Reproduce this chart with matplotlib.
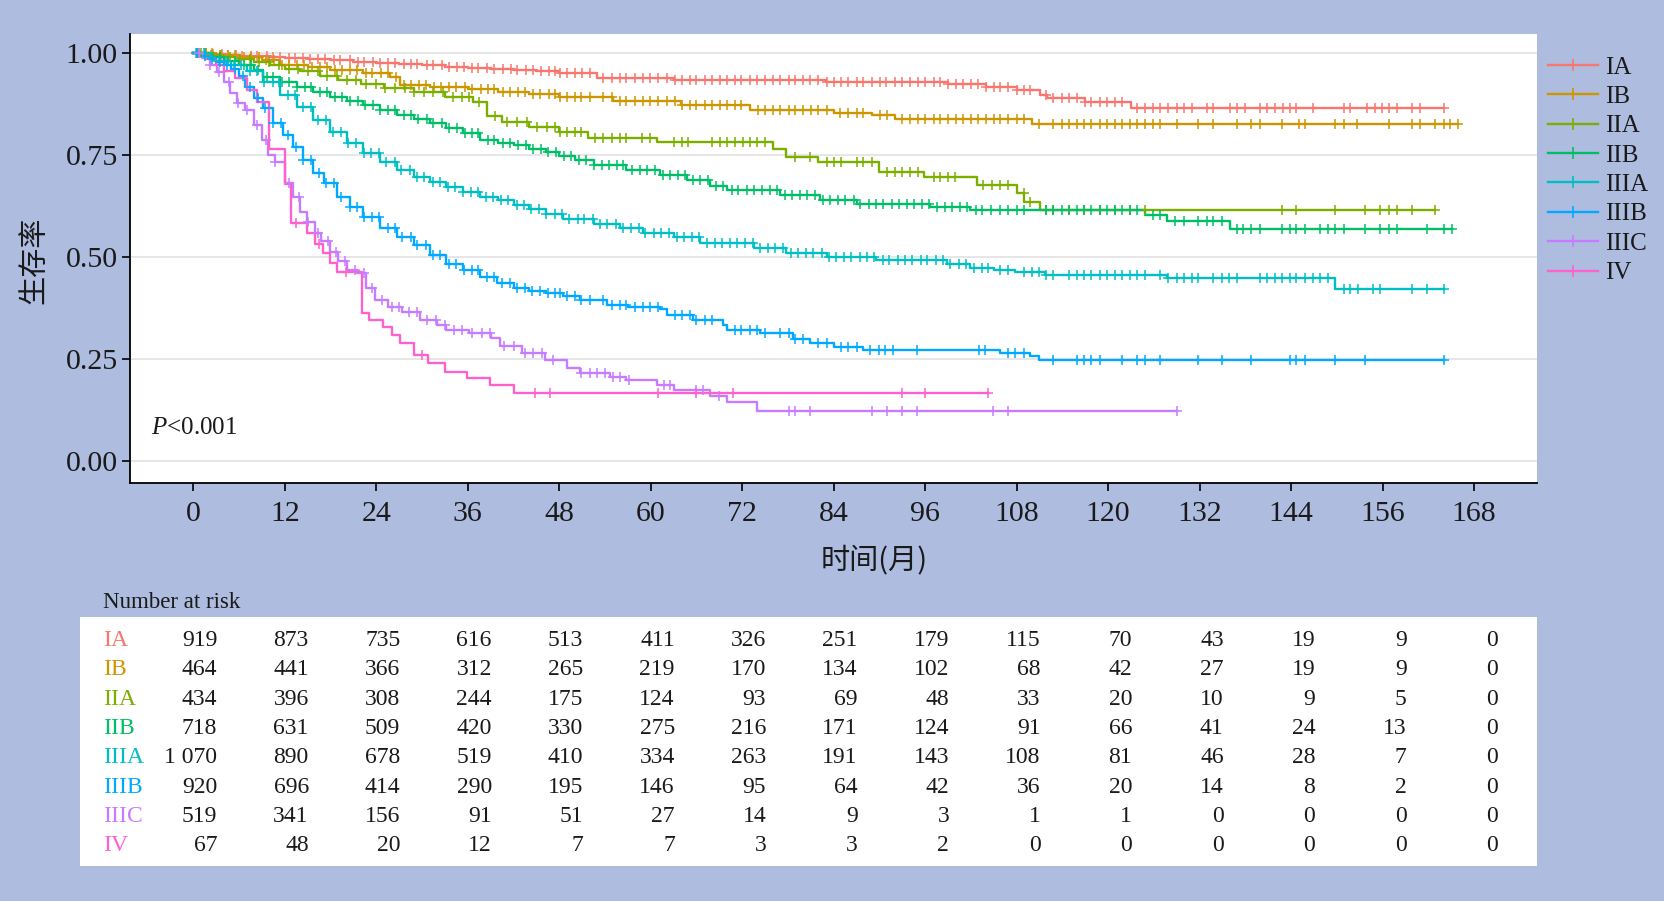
import numpy as np
import matplotlib
matplotlib.use("Agg")
import matplotlib.pyplot as plt
from matplotlib.lines import Line2D

plt.rcParams['font.family'] = ['Liberation Serif', 'Noto Sans CJK SC', 'DejaVu Sans']
plt.rcParams['mathtext.fontset'] = 'custom'
plt.rcParams['mathtext.it'] = 'Liberation Serif:italic'
plt.rcParams['mathtext.rm'] = 'Liberation Serif'

# ---------------- data ----------------
stages = ['IA', 'IB', 'IIA', 'IIB', 'IIIA', 'IIIB', 'IIIC', 'IV']
colors = ['#F8766D', '#CD9600', '#7CAE00', '#00BE67', '#00BFC4', '#00A9FF', '#C77CFF', '#FF61CC']

# Kaplan-Meier step points (time in months, survival)
IA_t = [0, 2, 4, 6, 8, 10, 12, 15, 18, 21, 24, 27, 30, 33, 36, 39, 42, 45, 48, 53, 63, 83, 99, 104, 108, 111, 112, 117, 123]
IA_s = [1.0, 0.998, 0.996, 0.994, 0.992, 0.990, 0.988, 0.985, 0.982, 0.979, 0.976, 0.973, 0.970, 0.967, 0.964, 0.961, 0.958, 0.955, 0.950, 0.940, 0.933, 0.929, 0.925, 0.918, 0.909, 0.897, 0.891, 0.881, 0.866]
IA_end = 164.0

IB_t = [0, 3, 6, 9, 11.4, 15, 17.9, 22.3, 25.8, 27.1, 31, 36, 40, 44, 48, 55, 64, 73, 84, 89, 92, 110]
IB_s = [1.0, 0.995, 0.99, 0.982, 0.971, 0.965, 0.959, 0.950, 0.942, 0.922, 0.918, 0.911, 0.905, 0.900, 0.893, 0.882, 0.873, 0.860, 0.854, 0.847, 0.838, 0.826]
IB_end = 165.9

IIA_t = [0, 2, 4, 6, 8, 10, 12, 14, 16.6, 19, 22, 25, 29, 33, 36.7, 38.5, 40.5, 44, 48, 51.8, 60.8, 76, 77.8, 82, 90, 95.8, 102.8, 108, 109, 111]
IIA_s = [1.0, 0.995, 0.99, 0.985, 0.978, 0.97, 0.962, 0.955, 0.945, 0.935, 0.925, 0.915, 0.905, 0.893, 0.88, 0.845, 0.83, 0.818, 0.806, 0.791, 0.781, 0.766, 0.744, 0.734, 0.709, 0.695, 0.676, 0.656, 0.636, 0.615]
IIA_end = 162.9

IIB_t = [0, 2, 4, 6, 8, 9.2, 11.4, 13.6, 15.7, 17.9, 20.1, 22.3, 24.5, 26.7, 29, 31.1, 33.2, 35.4, 37.6, 40, 42, 44, 46.3, 48, 50, 52.5, 56.8, 61.2, 64.7, 67.8, 70, 77, 82.2, 87, 96.6, 101.9, 124.8, 127.7, 136]
IIB_s = [1.0, 0.99, 0.98, 0.97, 0.958, 0.942, 0.930, 0.918, 0.905, 0.893, 0.883, 0.873, 0.860, 0.848, 0.838, 0.828, 0.816, 0.803, 0.787, 0.78, 0.775, 0.765, 0.757, 0.748, 0.739, 0.726, 0.713, 0.701, 0.689, 0.674, 0.664, 0.652, 0.64, 0.63, 0.623, 0.614, 0.603, 0.588, 0.569]
IIB_end = 165.1

IIIA_t = [0, 1.5, 3, 5, 7, 9.2, 11.4, 13.6, 15.7, 17.9, 20.1, 22.3, 24.5, 26.7, 28.9, 31.1, 33.2, 35.4, 37.6, 40, 42, 44, 46.3, 48.5, 52.5, 56, 59, 63, 66.5, 73.5, 77.8, 83.1, 89.6, 98.8, 101.9, 105, 107.8, 111.7, 127.7, 149.8]
IIIA_s = [1.0, 0.99, 0.98, 0.97, 0.955, 0.93, 0.897, 0.869, 0.836, 0.807, 0.779, 0.754, 0.734, 0.713, 0.697, 0.685, 0.672, 0.66, 0.648, 0.64, 0.628, 0.617, 0.605, 0.592, 0.581, 0.57, 0.56, 0.548, 0.535, 0.521, 0.509, 0.501, 0.493, 0.483, 0.472, 0.468, 0.462, 0.456, 0.448, 0.421]
IIIA_end = 164.0

IIIB_t = [0, 1, 2, 3, 4, 5, 6, 6.8, 8, 9.2, 10.5, 11.8, 13.1, 14.4, 15.7, 17.1, 18.8, 20.5, 22.3, 24.5, 26.7, 28.9, 31.1, 33.2, 35.4, 37.6, 39.8, 42, 44, 46.3, 48.5, 50.7, 54.2, 57, 61.2, 62.1, 65.6, 69.5, 70, 74.3, 78.7, 80.9, 84, 87.9, 105.8, 109.8, 110.9]
IIIB_s = [1.0, 0.993, 0.985, 0.978, 0.97, 0.96, 0.945, 0.918, 0.89, 0.865, 0.828, 0.8, 0.77, 0.738, 0.705, 0.681, 0.648, 0.623, 0.599, 0.57, 0.55, 0.529, 0.505, 0.484, 0.468, 0.452, 0.435, 0.423, 0.417, 0.411, 0.404, 0.395, 0.382, 0.377, 0.372, 0.358, 0.346, 0.333, 0.321, 0.313, 0.3, 0.29, 0.28, 0.272, 0.264, 0.257, 0.247]
IIIB_end = 164.0

IIIC_t = [0, 1.1, 2.2, 3.1, 4.0, 4.8, 5.7, 6.8, 7.9, 9.0, 9.8, 10.7, 12.0, 13.1, 14.0, 14.9, 16.0, 16.8, 17.9, 19.0, 20.1, 21.5, 22.7, 23.8, 25.6, 27.4, 29.7, 32, 33.2, 36.1, 39, 40.2, 43.1, 46.1, 49, 50.7, 54.7, 56.8, 60.8, 63, 67.8, 70, 73.9]
IIIC_s = [1.0, 0.987, 0.971, 0.954, 0.93, 0.901, 0.877, 0.86, 0.824, 0.787, 0.75, 0.734, 0.681, 0.648, 0.611, 0.587, 0.558, 0.538, 0.513, 0.489, 0.468, 0.46, 0.424, 0.395, 0.378, 0.366, 0.346, 0.333, 0.322, 0.313, 0.301, 0.281, 0.265, 0.248, 0.227, 0.215, 0.205, 0.198, 0.186, 0.174, 0.158, 0.145, 0.123]
IIIC_end = 129.0

IV_t = [0, 1.5, 3, 4, 5.5, 7, 8.3, 9.9, 12.0, 12.8, 14.9, 16, 17, 17.9, 18.8, 22.1, 23, 24.9, 26, 27.1, 28.9, 30.8, 33, 35.9, 38.9, 42]
IV_s = [1.0, 0.985, 0.97, 0.955, 0.94, 0.91, 0.88, 0.766, 0.68, 0.583, 0.558, 0.533, 0.509, 0.485, 0.464, 0.362, 0.345, 0.329, 0.309, 0.288, 0.26, 0.239, 0.219, 0.203, 0.186, 0.167]
IV_end = 104.3

# censoring times (months) read from the "+" marks
IA_cens = [0.8, 1.7, 2.6, 3.7, 4.5, 5.6, 6.4, 7.5, 8.4, 9.6, 10.5, 11.4, 12.5, 13.3, 14.4, 15.3, 16.4, 17.3, 18.4, 19.3,
           20.5, 21.6, 22.4, 23.6, 24.5, 25.6, 26.4, 27.6, 28.5, 29.4, 30.6, 31.5, 32.6, 33.5, 34.6, 35.5, 36.6, 37.4,
           38.5, 39.4, 40.6, 41.7, 42.5, 43.6, 44.5, 45.6, 46.7, 47.5, 48.1, 49.0, 50.0, 51.0, 52.0, 53.8, 54.9, 56.0,
           56.8, 57.9, 59.0, 59.9, 61.0, 62.1, 63.2, 64.1, 65.2, 66.0, 67.1, 68.0, 69.1, 70.0, 71.1, 71.9, 73.0, 73.9,
           75.0, 76.1, 77.0, 78.1, 78.9, 80.0, 80.9, 82.0, 83.1, 84.0, 85.0, 85.9, 87.0, 87.9, 89.0, 90.1, 90.9, 92.0,
           92.9, 94.0, 95.1, 96.0, 97.1, 97.9, 99.0, 100.1, 101.0, 102.0, 102.9, 104.0, 105.0, 105.8, 106.9, 108.0,
           108.9, 109.8, 111.9, 112.8, 113.9, 114.8, 115.9, 117.0, 117.8, 118.9, 119.8, 120.9, 121.8, 123.8, 124.8,
           125.9, 126.8, 127.9, 129.0, 129.9, 131.0, 132.9, 133.8, 136.0, 136.9, 138.0, 139.9, 140.8, 141.9, 143.0,
           143.9, 144.7, 146.9, 150.9, 151.7, 153.9, 155.0, 155.9, 156.8, 157.9, 159.8, 160.9, 164.0]
IB_cens = [0.5, 1.6, 2.5, 3.6, 4.6, 5.5, 6.6, 7.5, 8.6, 9.5, 10.6, 11.6, 12.5, 13.6, 14.5, 15.6, 16.6, 17.5, 18.6, 19.5,
           20.6, 21.5, 22.6, 23.5, 24.6, 25.5, 26.6, 27.6, 28.5, 29.6, 30.5, 31.6, 32.5, 33.6, 34.5, 35.6, 36.6, 37.7,
           38.6, 39.5, 40.6, 41.5, 42.6, 43.5, 44.6, 45.5, 46.6, 47.5, 48.1, 49.0, 50.1, 50.9, 52.0, 53.8, 54.9, 56.0,
           56.8, 57.9, 59.0, 59.9, 61.0, 62.1, 63.2, 64.1, 65.2, 66.0, 67.1, 68.0, 69.1, 70.0, 71.1, 71.9, 74.1, 75.0,
           76.0, 77.0, 78.1, 78.9, 80.0, 81.0, 82.0, 83.1, 84.8, 85.9, 87.0, 87.9, 90.1, 91.0, 93.0, 94.0, 95.1, 96.0,
           97.1, 97.9, 99.0, 100.1, 101.0, 102.0, 102.9, 104.0, 105.0, 105.8, 106.9, 108.0, 108.9, 110.9, 112.8, 113.9,
           114.8, 115.9, 116.8, 117.8, 118.9, 119.8, 120.9, 121.8, 122.9, 123.8, 124.8, 125.9, 126.8, 129.0, 131.8,
           133.8, 136.9, 138.8, 139.9, 142.8, 145.0, 145.8, 149.8, 150.9, 152.7, 156.8, 159.8, 160.9, 162.9, 164.0,
           164.9, 165.9]
IIA_cens = [1.0, 2.3, 3.5, 4.8, 6.1, 7.4, 8.6, 9.9, 11.2, 12.5, 13.7, 15.0, 16.3, 17.5, 18.8, 20.1, 21.4, 22.6, 23.9,
            25.2, 26.4, 27.7, 29.0, 30.3, 31.5, 32.8, 34.1, 35.3, 36.2, 37.5, 39.6, 41.2, 42.5, 43.8, 45.1, 46.4, 47.5,
            48.1, 49.0, 50.1, 50.9, 52.7, 53.8, 54.9, 56.0, 56.8, 58.8, 59.9, 63.0, 64.1, 64.9, 68.0, 69.1, 70.0, 71.1,
            72.1, 73.0, 73.9, 75.0, 78.9, 80.9, 83.1, 84.0, 85.0, 87.0, 87.9, 89.0, 91.0, 92.0, 92.9, 94.0, 95.1, 97.1,
            97.9, 99.0, 99.9, 103.6, 104.7, 105.8, 106.9, 108.9, 109.8, 111.9, 112.8, 114.8, 116.8, 118.9, 120.9,
            122.9, 124.8, 142.8, 144.7, 149.8, 153.7, 155.7, 156.8, 157.9, 159.8, 162.9]
IIB_cens = [0.6, 1.5, 2.6, 3.5, 4.6, 5.5, 6.6, 7.6, 8.5, 9.6, 10.5, 11.6, 12.5, 13.6, 14.6, 15.5, 16.6, 17.5, 18.6, 19.5,
            20.6, 21.6, 22.5, 23.6, 24.5, 25.6, 26.5, 27.6, 28.6, 29.5, 30.6, 31.5, 32.6, 33.5, 34.6, 35.6, 36.5, 37.4,
            38.6, 39.5, 40.6, 41.5, 42.6, 43.6, 44.5, 45.6, 46.5, 47.6, 48.6, 49.5, 50.6, 51.5, 52.6, 53.6, 54.5, 55.6,
            56.4, 57.6, 58.6, 59.5, 60.6, 61.6, 62.5, 63.6, 64.5, 65.6, 66.5, 67.5, 68.6, 69.5, 70.6, 71.5, 72.6, 73.5,
            74.6, 75.6, 76.5, 77.6, 78.5, 79.6, 80.5, 81.6, 82.6, 83.5, 84.6, 85.5, 86.6, 87.5, 88.6, 89.6, 90.5, 91.6,
            92.5, 93.6, 94.5, 95.6, 96.5, 97.6, 98.6, 99.5, 100.6, 101.5, 102.6, 103.5, 104.6, 105.8, 106.9, 108.0,
            108.9, 111.9, 112.8, 113.9, 114.8, 115.9, 116.8, 117.8, 118.9, 119.8, 120.9, 121.8, 122.9, 123.8, 125.9,
            126.8, 128.8, 129.9, 131.8, 132.9, 133.8, 134.9, 136.9, 137.7, 138.8, 139.9, 142.8, 143.9, 144.7, 145.8,
            147.8, 148.9, 149.8, 150.9, 153.7, 155.7, 156.8, 157.9, 161.8, 164.0, 165.1]
IIIA_cens = [0.4, 1.4, 2.3, 3.4, 4.3, 5.4, 6.3, 7.4, 8.4, 9.3, 10.4, 11.3, 12.4, 13.3, 14.4, 15.4, 16.3, 17.4, 18.3,
             19.4, 20.3, 21.4, 22.4, 23.3, 24.4, 25.3, 26.4, 27.3, 28.4, 29.4, 30.3, 31.4, 32.3, 33.4, 34.3, 35.4,
             36.4, 37.3, 38.4, 39.3, 40.4, 41.3, 42.4, 43.4, 44.3, 45.4, 46.3, 47.4, 48.4, 49.3, 50.4, 51.3, 52.4,
             53.4, 54.3, 55.4, 56.3, 57.4, 58.4, 59.3, 60.4, 61.3, 62.4, 63.4, 64.3, 65.4, 66.3, 67.4, 68.4, 69.3,
             70.4, 71.3, 72.4, 73.4, 74.3, 75.4, 76.3, 77.4, 78.4, 79.3, 80.4, 81.3, 82.4, 83.4, 84.3, 85.4, 86.3,
             87.4, 88.4, 89.3, 90.4, 91.3, 92.4, 93.4, 94.3, 95.4, 96.3, 97.4, 98.4, 99.3, 100.4, 101.3, 102.4, 103.4,
             104.3, 105.8, 106.9, 108.9, 110.0, 110.9, 111.9, 112.8, 114.8, 115.9, 116.8, 117.8, 118.9, 119.8, 120.9,
             121.8, 122.9, 123.8, 124.8, 126.8, 127.9, 129.0, 129.9, 131.0, 131.8, 133.8, 134.9, 135.8, 136.9, 139.9,
             140.8, 141.9, 142.8, 143.9, 144.7, 145.8, 146.9, 147.8, 148.9, 150.9, 151.7, 152.8, 154.8, 155.7, 159.8,
             161.8, 164.0]
IIIB_cens = [0.5, 1.5, 2.4, 3.5, 4.4, 5.5, 6.5, 7.4, 8.5, 9.4, 10.5, 11.5, 12.4, 13.5, 14.4, 15.5, 16.5, 17.4, 18.5,
             19.4, 20.5, 21.5, 22.4, 23.5, 24.4, 25.5, 26.5, 27.4, 28.5, 29.4, 30.5, 31.5, 32.4, 33.5, 34.4, 35.5,
             36.5, 37.4, 38.5, 39.4, 40.5, 41.5, 42.4, 43.5, 44.4, 45.5, 46.5, 47.4, 48.1, 49.0, 50.1, 50.9, 52.0,
             53.8, 54.9, 56.0, 56.8, 57.9, 59.0, 59.9, 61.0, 63.2, 64.1, 65.2, 66.0, 67.1, 68.0, 71.1, 71.9, 73.0,
             73.9, 75.0, 77.0, 78.1, 78.9, 80.0, 82.0, 83.1, 85.0, 85.9, 87.0, 88.8, 89.9, 90.7, 91.8, 94.9, 103.0,
             103.9, 106.9, 107.8, 108.9, 112.8, 115.9, 116.8, 117.8, 118.9, 121.8, 123.8, 124.8, 126.8, 131.8, 134.9,
             138.8, 143.9, 144.7, 145.8, 149.8, 153.7, 164.0]
IIIC_cens = [0.8, 2.2, 3.4, 4.7, 5.8, 7.0, 8.4, 9.5, 10.7, 12.6, 13.8, 15.1, 16.3, 17.6, 18.7, 19.9, 21.2, 22.4, 23.5,
             24.8, 26.1, 27.0, 28.3, 29.4, 30.6, 31.8, 33.0, 34.2, 35.3, 36.6, 37.8, 38.9, 40.8, 42.1, 43.5, 44.6,
             45.8, 47.2, 50.9, 52.0, 52.9, 54.0, 55.1, 56.0, 57.1, 61.7, 62.5, 66.0, 66.9, 68.9, 78.1, 78.9, 80.9,
             89.0, 91.0, 92.9, 94.9, 104.9, 106.9, 129.0]
IV_cens = [13.5, 16.5, 20.0, 30.0, 44.8, 46.8, 61.0, 66.0, 70.8, 92.9, 96.0, 104.3]

# number at risk table
risk_times = [0, 12, 24, 36, 48, 60, 72, 84, 96, 108, 120, 132, 144, 156, 168]
risk_IA = [919, 873, 735, 616, 513, 411, 326, 251, 179, 115, 70, 43, 19, 9, 0]
risk_IB = [464, 441, 366, 312, 265, 219, 170, 134, 102, 68, 42, 27, 19, 9, 0]
risk_IIA = [434, 396, 308, 244, 175, 124, 93, 69, 48, 33, 20, 10, 9, 5, 0]
risk_IIB = [718, 631, 509, 420, 330, 275, 216, 171, 124, 91, 66, 41, 24, 13, 0]
risk_IIIA = [1070, 890, 678, 519, 410, 334, 263, 191, 143, 108, 81, 46, 28, 7, 0]
risk_IIIB = [920, 696, 414, 290, 195, 146, 95, 64, 42, 36, 20, 14, 8, 2, 0]
risk_IIIC = [519, 341, 156, 91, 51, 27, 14, 9, 3, 1, 1, 0, 0, 0, 0]
risk_IV = [67, 48, 20, 12, 7, 7, 3, 3, 2, 0, 0, 0, 0, 0, 0]

y_ticks = [0.00, 0.25, 0.50, 0.75, 1.00]
x_ticks = risk_times

curves = [
    (IA_t, IA_s, IA_end, IA_cens, risk_IA),
    (IB_t, IB_s, IB_end, IB_cens, risk_IB),
    (IIA_t, IIA_s, IIA_end, IIA_cens, risk_IIA),
    (IIB_t, IIB_s, IIB_end, IIB_cens, risk_IIB),
    (IIIA_t, IIIA_s, IIIA_end, IIIA_cens, risk_IIIA),
    (IIIB_t, IIIB_s, IIIB_end, IIIB_cens, risk_IIIB),
    (IIIC_t, IIIC_s, IIIC_end, IIIC_cens, risk_IIIC),
    (IV_t, IV_s, IV_end, IV_cens, risk_IV),
]

# ---------------- figure ----------------
W, H = 1665, 901
BG = '#AEBCE0'
fig = plt.figure(figsize=(W / 100, H / 100), dpi=100, facecolor=BG)

def fx(px):
    return px / W

def fy(py):
    return 1 - py / H

# main KM axes
ax_l, ax_r, ax_t, ax_b = 129.6, 1536.6, 34.0, 483.2
ax = fig.add_axes([fx(ax_l), fy(ax_b), fx(ax_r - ax_l), (ax_b - ax_t) / H])
ax.set_facecolor('white')
XMIN, XMAX = -8.36, 176.2
ax.set_xlim(XMIN, XMAX)
ax.set_ylim(-0.0547, 1.0468)

for y in y_ticks:
    ax.axhline(y, color='#E6E6E6', lw=1.4, zorder=0)

LW = 1.7
for (t, s, end, cens, _), col in zip(curves, colors):
    xs = list(t) + [end]
    ys = list(s) + [s[-1]]
    ax.step(xs, ys, where='post', color=col, lw=LW, zorder=2)
    c = np.asarray(cens)
    idx = np.searchsorted(np.asarray(t), c, side='right') - 1
    cy = np.asarray(s)[idx]
    ax.plot(c, cy, linestyle='none', marker='+', color=col, ms=7, mew=1.1, zorder=3)

for side in ['top', 'right']:
    ax.spines[side].set_visible(False)
for side in ['left', 'bottom']:
    ax.spines[side].set_color('black')
    ax.spines[side].set_linewidth(1.3)

ax.set_xticks(x_ticks)
ax.set_xticklabels([str(v) for v in x_ticks])
ax.set_yticks(y_ticks)
ax.set_yticklabels([f'{v:.2f}' for v in y_ticks])
ax.tick_params(axis='both', direction='out', length=5.5, width=1.2, color='black',
               labelsize=21.5, labelcolor='#1A1A1A')
ax.tick_params(axis='x', pad=7)
ax.tick_params(axis='y', pad=3)

ax.set_xlabel('时间(月)', fontsize=21, family=['Noto Sans CJK SC', 'Liberation Serif'],
              color='#1A1A1A', va='center')
ax.xaxis.set_label_coords((874 - ax_l) / (ax_r - ax_l), (ax_b - 560) / (ax_b - ax_t))
ax.set_ylabel('生存率', fontsize=21, family=['Noto Sans CJK SC', 'Liberation Serif'],
              color='#1A1A1A', va='center')
ax.yaxis.set_label_coords((34 - ax_l) / (ax_r - ax_l), (ax_b - 260) / (ax_b - ax_t))

ax.text(-5.6, 0.081, '$P$<0.001', fontsize=18, color='#1A1A1A', ha='left', va='center')

# legend
handles = [Line2D([0], [0], color=c, lw=LW, marker='+', ms=9, mew=1.2) for c in colors]
leg = ax.legend(handles, stages, loc='upper left', bbox_to_anchor=(fx(1548), fy(56)),
                bbox_transform=fig.transFigure, frameon=False, fontsize=18,
                handlelength=2.0, handletextpad=0.28, labelspacing=0.276, borderpad=0,
                borderaxespad=0)
for txt in leg.get_texts():
    txt.set_color('#1A1A1A')

# number at risk table
tb_l, tb_r, tb_t, tb_b = 79.6, 1536.6, 617.0, 865.5
tax = fig.add_axes([fx(tb_l), fy(tb_b), fx(tb_r - tb_l), (tb_b - tb_t) / H])
tax.set_facecolor('white')
px_per_month = (ax_r - ax_l) / (XMAX - XMIN)
tax.set_xlim(XMIN - (ax_l - tb_l) / px_per_month, XMAX)
row0, row_step = 640.5, 29.34
tax.set_ylim((tb_b - row0) / row_step, (tb_t - row0) / row_step)
tax.set_xticks([])
tax.set_yticks([])
for sp in tax.spines.values():
    sp.set_visible(False)

label_x = -11.85
num_off = 3.15
for i, ((_, _, _, _, risk), col, name) in enumerate(zip(curves, colors, stages)):
    tax.text(label_x, i, name, color=col, fontsize=17, ha='left', va='center')
    for tm, n in zip(risk_times, risk):
        s = f'{n:,}'.replace(',', ' ')
        tax.text(tm + num_off, i, s, color='#1A1A1A', fontsize=17, ha='right', va='center')

fig.text(fx(103), fy(603), 'Number at risk', fontsize=16.5, color='#1A1A1A', ha='left', va='center')

fig.savefig('out.png', dpi=100, facecolor=BG)
